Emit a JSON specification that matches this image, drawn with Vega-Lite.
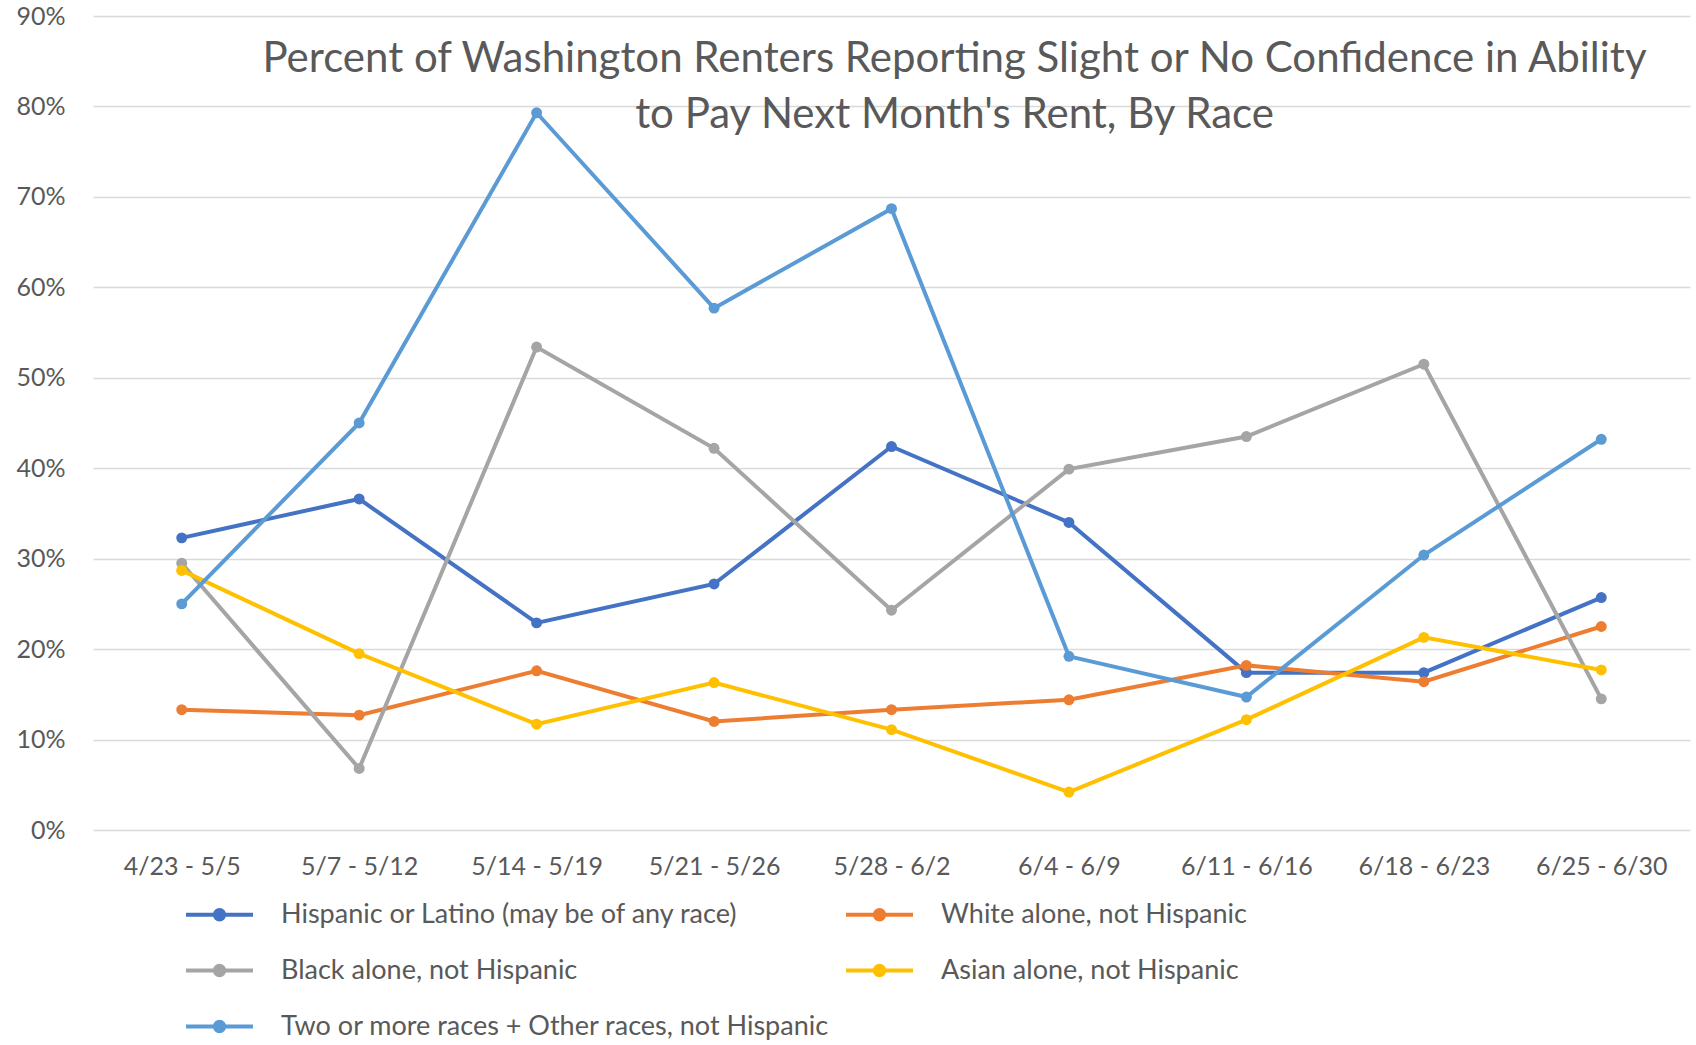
{
  "$schema": "https://vega.github.io/schema/vega-lite/v6.json",
  "autosize": {"type": "none"},
  "width": 1597,
  "height": 814,
  "padding": {"left": 93, "top": 16, "right": 6, "bottom": 215},
  "background": "white",
  "config": {
    "font": "Lato",
    "view": {"stroke": null},
    "axis": {"labelFont": "Lato", "labelColor": "#595959", "labelFontSize": 25}
  },
  "title": {
    "text": ["Percent of Washington Renters Reporting Slight or No Confidence  in Ability", "to Pay Next Month's Rent, By Race"],
    "font": "Lato",
    "fontSize": 42,
    "fontWeight": "normal",
    "color": "#595959",
    "anchor": "middle",
    "frame": "group",
    "orient": "top",
    "baseline": "top",
    "offset": -24,
    "dx": 63,
    "dy": 109,
    "lineHeight": 56
  },
  "data": {
    "values": [
      {"week": "4/23 - 5/5", "group": "Hispanic or Latino (may be of any race)", "v": 0.323},
      {"week": "5/7 - 5/12", "group": "Hispanic or Latino (may be of any race)", "v": 0.366},
      {"week": "5/14 - 5/19", "group": "Hispanic or Latino (may be of any race)", "v": 0.229},
      {"week": "5/21 - 5/26", "group": "Hispanic or Latino (may be of any race)", "v": 0.272},
      {"week": "5/28 - 6/2", "group": "Hispanic or Latino (may be of any race)", "v": 0.424},
      {"week": "6/4 - 6/9", "group": "Hispanic or Latino (may be of any race)", "v": 0.340},
      {"week": "6/11 - 6/16", "group": "Hispanic or Latino (may be of any race)", "v": 0.174},
      {"week": "6/18 - 6/23", "group": "Hispanic or Latino (may be of any race)", "v": 0.174},
      {"week": "6/25 - 6/30", "group": "Hispanic or Latino (may be of any race)", "v": 0.257},
      {"week": "4/23 - 5/5", "group": "White alone, not Hispanic", "v": 0.133},
      {"week": "5/7 - 5/12", "group": "White alone, not Hispanic", "v": 0.127},
      {"week": "5/14 - 5/19", "group": "White alone, not Hispanic", "v": 0.176},
      {"week": "5/21 - 5/26", "group": "White alone, not Hispanic", "v": 0.120},
      {"week": "5/28 - 6/2", "group": "White alone, not Hispanic", "v": 0.133},
      {"week": "6/4 - 6/9", "group": "White alone, not Hispanic", "v": 0.144},
      {"week": "6/11 - 6/16", "group": "White alone, not Hispanic", "v": 0.182},
      {"week": "6/18 - 6/23", "group": "White alone, not Hispanic", "v": 0.164},
      {"week": "6/25 - 6/30", "group": "White alone, not Hispanic", "v": 0.225},
      {"week": "4/23 - 5/5", "group": "Black alone, not Hispanic", "v": 0.295},
      {"week": "5/7 - 5/12", "group": "Black alone, not Hispanic", "v": 0.068},
      {"week": "5/14 - 5/19", "group": "Black alone, not Hispanic", "v": 0.534},
      {"week": "5/21 - 5/26", "group": "Black alone, not Hispanic", "v": 0.422},
      {"week": "5/28 - 6/2", "group": "Black alone, not Hispanic", "v": 0.243},
      {"week": "6/4 - 6/9", "group": "Black alone, not Hispanic", "v": 0.399},
      {"week": "6/11 - 6/16", "group": "Black alone, not Hispanic", "v": 0.435},
      {"week": "6/18 - 6/23", "group": "Black alone, not Hispanic", "v": 0.515},
      {"week": "6/25 - 6/30", "group": "Black alone, not Hispanic", "v": 0.145},
      {"week": "4/23 - 5/5", "group": "Asian alone, not Hispanic", "v": 0.287},
      {"week": "5/7 - 5/12", "group": "Asian alone, not Hispanic", "v": 0.195},
      {"week": "5/14 - 5/19", "group": "Asian alone, not Hispanic", "v": 0.117},
      {"week": "5/21 - 5/26", "group": "Asian alone, not Hispanic", "v": 0.163},
      {"week": "5/28 - 6/2", "group": "Asian alone, not Hispanic", "v": 0.111},
      {"week": "6/4 - 6/9", "group": "Asian alone, not Hispanic", "v": 0.042},
      {"week": "6/11 - 6/16", "group": "Asian alone, not Hispanic", "v": 0.122},
      {"week": "6/18 - 6/23", "group": "Asian alone, not Hispanic", "v": 0.213},
      {"week": "6/25 - 6/30", "group": "Asian alone, not Hispanic", "v": 0.177},
      {"week": "4/23 - 5/5", "group": "Two or more races + Other races, not Hispanic", "v": 0.250},
      {"week": "5/7 - 5/12", "group": "Two or more races + Other races, not Hispanic", "v": 0.450},
      {"week": "5/14 - 5/19", "group": "Two or more races + Other races, not Hispanic", "v": 0.793},
      {"week": "5/21 - 5/26", "group": "Two or more races + Other races, not Hispanic", "v": 0.577},
      {"week": "5/28 - 6/2", "group": "Two or more races + Other races, not Hispanic", "v": 0.687},
      {"week": "6/4 - 6/9", "group": "Two or more races + Other races, not Hispanic", "v": 0.192},
      {"week": "6/11 - 6/16", "group": "Two or more races + Other races, not Hispanic", "v": 0.147},
      {"week": "6/18 - 6/23", "group": "Two or more races + Other races, not Hispanic", "v": 0.304},
      {"week": "6/25 - 6/30", "group": "Two or more races + Other races, not Hispanic", "v": 0.432}
    ]
  },
  "mark": {"type": "line", "strokeWidth": 4, "point": {"filled": true, "size": 120}},
  "encoding": {
    "x": {
      "field": "week", "type": "nominal", "sort": null,
      "scale": {"type": "point", "padding": 0.5},
      "axis": {"title": null, "labelAngle": 0, "domain": false, "ticks": false, "grid": false, "labelPadding": 24}
    },
    "y": {
      "field": "v", "type": "quantitative",
      "scale": {"domain": [0, 0.9], "nice": false},
      "axis": {
        "title": null, "format": ".0%", "values": [0, 0.1, 0.2, 0.3, 0.4, 0.5, 0.6, 0.7, 0.8, 0.9],
        "domain": false, "ticks": false, "grid": true, "gridColor": "#D9D9D9", "gridWidth": 1.5, "labelPadding": 28
      }
    },
    "color": {
      "field": "group", "type": "nominal",
      "scale": {
        "domain": ["Hispanic or Latino (may be of any race)", "Black alone, not Hispanic", "Two or more races + Other races, not Hispanic", "White alone, not Hispanic", "Asian alone, not Hispanic"],
        "range": ["#4472C4", "#A5A5A5", "#5B9BD5", "#ED7D31", "#FFC000"]
      },
      "legend": {
        "title": null,
        "orient": "none",
        "legendX": 91,
        "legendY": 863,
        "columns": 2,
        "columnPadding": 8,
        "rowPadding": 7,
        "symbolType": "M-1,0H1M-0.14,0A0.14,0.14 0 1,0 0.14,0A0.14,0.14 0 1,0 -0.14,0Z",
        "symbolSize": 4489,
        "symbolStrokeWidth": 4,
        "labelFont": "Lato",
        "labelFontSize": 27,
        "labelLimit": 0,
        "labelColor": "#595959",
        "labelOffset": 26,
        "encode": {
          "symbols": {"update": {"stroke": {"scale": "color", "field": "value"}, "fill": {"scale": "color", "field": "value"}, "opacity": {"value": 1}}}
        }
      }
    }
  }
}
